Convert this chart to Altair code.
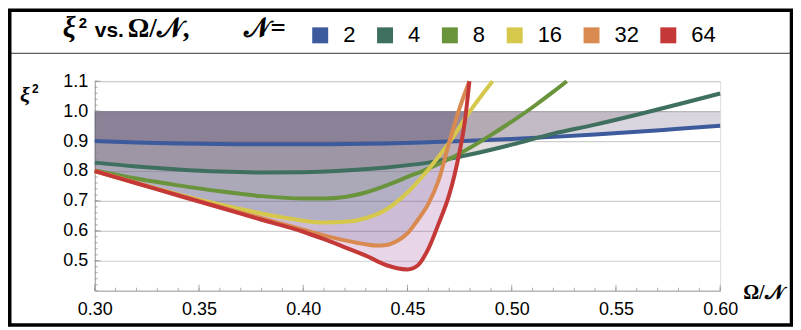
import altair as alt
import pandas as pd

# ---------------- data ----------------
N_labels = ["2", "4", "8", "16", "32", "64"]
line_colors = ["#3c5a9c", "#3e6f5f", "#6a943c", "#d6c84c", "#d98a50", "#c43838"]
fill_colors = ["#463264", "#704e55", "#8c8c85", "#507b82", "#615493", "#8c328c"]

x2 = [0.30, 0.32, 0.34, 0.36, 0.38, 0.40, 0.42, 0.44, 0.46, 0.48, 0.50, 0.52, 0.54, 0.56, 0.58, 0.60]
y2 = [0.900, 0.895, 0.892, 0.890, 0.889, 0.889, 0.890, 0.892, 0.896, 0.901, 0.907, 0.914, 0.922, 0.931, 0.941, 0.951]

x4 = [0.30, 0.32, 0.34, 0.36, 0.38, 0.40, 0.42, 0.44, 0.46, 0.48, 0.50, 0.52, 0.54, 0.56, 0.58, 0.60]
y4 = [0.828, 0.815, 0.805, 0.798, 0.795, 0.796, 0.802, 0.812, 0.828, 0.855, 0.888, 0.925, 0.955, 0.988, 1.023, 1.059]

x8 = [0.30, 0.32, 0.34, 0.36, 0.38, 0.40, 0.41, 0.42, 0.43, 0.44, 0.45, 0.46, 0.47, 0.48, 0.49, 0.50, 0.51, 0.52, 0.5264]
y8 = [0.802, 0.775, 0.752, 0.732, 0.716, 0.708, 0.708, 0.713, 0.728, 0.752, 0.780, 0.808, 0.840, 0.878, 0.920, 0.965, 1.013, 1.065, 1.100]

x16 = [0.30, 0.32, 0.34, 0.36, 0.38, 0.39, 0.40, 0.41, 0.42, 0.43, 0.44, 0.45, 0.46, 0.47, 0.48, 0.4908]
y16 = [0.800, 0.760, 0.722, 0.688, 0.658, 0.645, 0.634, 0.628, 0.630, 0.642, 0.672, 0.728, 0.805, 0.895, 1.000, 1.100]

x32 = [0.30, 0.32, 0.34, 0.36, 0.38, 0.40, 0.41, 0.42, 0.43, 0.435, 0.44, 0.445, 0.45, 0.455, 0.46, 0.465, 0.47, 0.475, 0.4797]
y32 = [0.800, 0.760, 0.720, 0.681, 0.642, 0.604, 0.585, 0.568, 0.555, 0.551, 0.553, 0.566, 0.592, 0.637, 0.690, 0.770, 0.895, 1.010, 1.100]

x64 = [0.30, 0.32, 0.34, 0.36, 0.38, 0.40, 0.41, 0.42, 0.43, 0.44, 0.445, 0.45, 0.455, 0.46, 0.465, 0.47, 0.4725, 0.475, 0.4775, 0.4797]
y64 = [0.800, 0.759, 0.718, 0.678, 0.637, 0.597, 0.572, 0.545, 0.517, 0.485, 0.475, 0.471, 0.485, 0.540, 0.625, 0.720, 0.785, 0.865, 0.965, 1.100]

x_tick_labels = [0.30, 0.35, 0.40, 0.45, 0.50, 0.55, 0.60]
x_minor = [round(0.30 + 0.01 * i, 2) for i in range(31)]
y_tick_labels = [0.5, 0.6, 0.7, 0.8, 0.9, 1.0, 1.1]
y_minor = [round(0.40 + 0.02 * i, 2) for i in range(36)]

title_parts = ["ξ", "2", "vs.", "Ω/𝒩,", "𝒩="]
ytitle_parts = ["ξ", "2"]
xtitle = "Ω/𝒩"

# ---------------- table ----------------
rows = []
for lab, xs, ys in zip(N_labels, [x2, x4, x8, x16, x32, x64], [y2, y4, y8, y16, y32, y64]):
    for a, b in zip(xs, ys):
        rows.append({"N": lab, "x": a, "y": b, "yf": min(b, 1.0)})
df = pd.DataFrame(rows)
one = pd.DataFrame({"k": [0]})

W, H = 627, 210
xsc = alt.Scale(domain=[0.30, 0.60], nice=False, zero=False)
ysc = alt.Scale(domain=[0.40, 1.10], nice=False, zero=False)
csc = alt.Scale(domain=N_labels, range=line_colors)

LF = "Liberation Sans"
SF = "Liberation Serif"
TICK = "#8a8a8a"

AX_X = alt.Axis(orient="bottom", values=x_tick_labels, format=".2f", labelFont=LF,
                labelFontSize=18, labelColor="black", ticks=False, domain=True,
                domainColor="#a0a0a0", domainWidth=1, grid=False, title=None,
                labelPadding=10, labelFlush=False)
AX_Y = alt.Axis(orient="left", values=y_tick_labels, format=".1f", labelFont=LF,
                labelFontSize=18, labelColor="black", ticks=False, domain=True,
                domainColor="#a0a0a0", domainWidth=1, grid=True, gridColor="#cfcfcf",
                gridWidth=1.2, title=None, labelPadding=7)

def X(f):
    return alt.X(f, scale=xsc, axis=AX_X)

def Y(f):
    return alt.Y(f, scale=ysc, axis=AX_Y)

layers = []
# filled regions between each curve and 1.0 (drawn 64 first)
for i in reversed(range(len(N_labels))):
    layers.append(
        alt.Chart(df).transform_filter(alt.datum.N == N_labels[i]).mark_area(
            color=fill_colors[i], fillOpacity=0.2, interpolate="monotone"
        ).encode(x=X("x:Q"), y=Y("yf:Q"), y2=alt.datum(1.0))
    )

# inward tick marks along the axes
def tick_df(vals):
    return pd.DataFrame({"x": vals, "y": vals})

layers.append(alt.Chart(tick_df(y_tick_labels)).mark_tick(
    orient="horizontal", size=6, thickness=1, color=TICK).encode(
    y=Y("y:Q"), x=alt.value(3)))
layers.append(alt.Chart(tick_df(y_minor)).mark_tick(
    orient="horizontal", size=3, thickness=1, color=TICK).encode(
    y=Y("y:Q"), x=alt.value(1.5)))
layers.append(alt.Chart(tick_df(x_tick_labels)).mark_tick(
    orient="vertical", size=6, thickness=1, color=TICK).encode(
    x=X("x:Q"), y=alt.value(H - 3)))
layers.append(alt.Chart(tick_df(x_minor)).mark_tick(
    orient="vertical", size=3, thickness=1, color=TICK).encode(
    x=X("x:Q"), y=alt.value(H - 1.5)))

# curves, 2 first and 64 on top
for i, lab in enumerate(N_labels):
    layers.append(
        alt.Chart(df).transform_filter(alt.datum.N == lab).mark_line(
            strokeWidth=4, interpolate="monotone", color=line_colors[i]
        ).encode(x=X("x:Q"), y=Y("y:Q"))
    )

legend_layer = alt.Chart(df).mark_square(opacity=0, size=0).encode(
    x=X("x:Q"), y=Y("y:Q"),
    color=alt.Color("N:N", scale=csc, sort=N_labels, legend=alt.Legend(
        orient="none", legendX=215, legendY=-57, direction="horizontal", title=None,
        symbolType="square", symbolSize=256, symbolOpacity=1, symbolStrokeWidth=0,
        labelFont=LF, labelFontSize=22, labelColor="black", labelOffset=12,
        columnPadding=18, padding=0)),
)
layers.append(legend_layer)

def txt(s, x, y, font, size, italic=False, bold=True):
    return alt.Chart(pd.DataFrame({"t": [s]})).mark_text(
        align="left", baseline="alphabetic", font=font, fontSize=size,
        fontStyle="italic" if italic else "normal", fontWeight="bold" if bold else "normal",
        color="black",
    ).encode(text="t:N", x=alt.value(x), y=alt.value(y))

layers.append(txt(title_parts[0], -32, -44, SF, 29, italic=True))
layers.append(txt(title_parts[1], -16, -53, LF, 15))
layers.append(txt(title_parts[2], 0, -44, LF, 21))
layers.append(txt(title_parts[3], 33, -44, SF, 27))
layers.append(txt(title_parts[4], 150, -44, SF, 27))
layers.append(txt(ytitle_parts[0], -75, 21, SF, 22, italic=True))
layers.append(txt(ytitle_parts[1], -63, 12, LF, 12))
layers.append(txt(xtitle, 650, 218, SF, 20))

sep = alt.Chart(one).mark_rule(color="#333333", strokeWidth=1).encode(
    x=alt.value(-87), x2=alt.value(698), y=alt.value(-28))
layers.append(sep)

frame = alt.Chart(one).mark_rect(fillOpacity=0, stroke="black", strokeWidth=3.5).encode(
    x=alt.value(-85.25), x2=alt.value(698.5), y=alt.value(-71.25), y2=alt.value(244.5))
layers.append(frame)

chart = alt.layer(*layers).properties(
    width=W, height=H,
    padding={"left": 87, "top": 73, "right": 73, "bottom": 36},
    autosize=alt.AutoSizeParams(type="none"),
).configure_view(stroke=None).configure(background="white")

chart.save("out.html", embed_options={"renderer": "svg", "actions": False})
